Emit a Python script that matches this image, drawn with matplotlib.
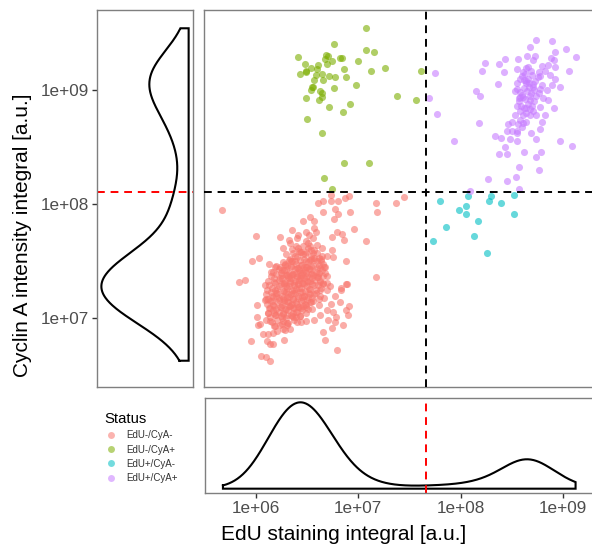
import numpy as np
import matplotlib
matplotlib.use('Agg')
import matplotlib.pyplot as plt
from matplotlib.lines import Line2D

plt.rcParams['font.family'] = ['Liberation Sans', 'DejaVu Sans']

# ---------------- data (log10 EdU integral, log10 Cyclin A integral) ----------------
status_labels = ['EdU-/CyA-', 'EdU-/CyA+', 'EdU+/CyA-', 'EdU+/CyA+']
status_colors = ['#F8766D', '#7CAE00', '#00BFC4', '#C77CFF']

red_points_sparse = [
    (5.68,7.95),(6.01,7.72),(6.24,7.71),(6.27,7.62),(5.97,7.50),(6.04,7.53),(6.14,7.48),(6.16,7.41),
    (6.21,7.46),(6.31,7.46),(5.85,7.32),(5.90,7.34),(6.10,7.29),(6.61,8.01),(6.66,8.03),(6.74,8.03),
    (6.81,8.03),(6.88,8.05),(6.92,8.07),(6.74,8.08),(6.66,7.93),(6.78,7.96),(6.77,7.87),(6.81,7.91),
    (6.93,7.93),(6.54,7.89),(6.58,7.85),(6.47,7.85),(6.36,7.77),(6.50,7.76),(6.58,7.79),(6.59,7.76),
    (6.42,7.73),(6.41,7.70),(6.33,7.69),(6.53,7.73),(6.50,7.68),(6.57,7.70),(6.75,7.71),(6.80,7.76),
    (6.85,7.74),(6.87,7.69),(6.96,7.78),(7.08,7.68),(7.18,8.01),(7.19,7.93),(7.37,8.01),(7.45,8.06),
    (6.34,7.66),(6.40,7.63),(6.54,7.63),(6.60,7.64),(6.65,7.62),(6.75,7.60),(6.45,7.58),(6.37,7.57),
    (6.50,7.58),(6.57,7.57),(6.65,7.55),(6.70,7.55),(6.76,7.54),(6.36,7.50),(6.44,7.51),(6.54,7.51),
    (6.60,7.50),(6.66,7.48),(6.41,7.44),(6.50,7.45),(6.63,7.44),(6.68,7.45),(6.89,7.50),(6.31,7.38),
    (6.37,7.39),(6.47,7.41),(6.57,7.38),(6.70,7.37),(6.26,7.35),(6.34,7.33),(6.54,7.33),(6.63,7.32),
    (7.18,7.36),(6.89,7.30),(6.19,7.32),(6.28,7.31),(6.47,7.31),(6.70,7.31),
    (6.44,7.35),(6.60,7.36),(6.73,7.28),(6.78,7.20),(6.83,7.14),(6.84,7.25),(6.84,7.27),(6.90,7.30),
    (6.92,7.11),(6.89,7.07),(6.91,7.03),(6.86,6.94),(6.74,7.13),(6.70,7.07),(6.76,7.06),(6.79,7.01),
    (6.78,6.97),(6.75,6.92),(6.71,6.99),(6.63,7.03),(6.58,6.99),(6.66,6.88),(6.68,6.81),(6.80,6.72),
    (6.02,7.12),(6.02,7.01),(6.05,6.95),(6.03,6.94),(6.08,6.86),(6.13,6.86),(6.18,6.87),(6.12,6.80),
    (6.15,6.78),(6.18,6.78),(5.96,6.80),(6.06,6.67),(6.11,6.66),(6.15,6.63),(6.28,6.81),(6.29,6.90),
    (6.34,6.91),(6.41,6.97),(6.45,6.97),(6.50,6.98),(6.24,6.94),(6.19,6.93),(6.15,6.98),(6.11,6.99),
    (6.13,7.05),(6.10,7.16),(6.11,7.17),(6.15,7.09),(6.21,7.20),(6.28,7.14),(6.34,7.11),(6.42,7.10),
    (6.50,7.10),(6.54,7.14),(6.63,7.20),(6.21,7.03),(6.31,7.03),(6.37,7.01),
]

red_points_core = [
    (6.20,7.45),(6.25,7.40),(6.30,7.42),(6.35,7.45),(6.40,7.48),(6.45,7.47),(6.50,7.50),(6.55,7.46),
    (6.60,7.44),(6.28,7.30),(6.33,7.28),(6.38,7.31),(6.43,7.27),(6.48,7.30),(6.53,7.26),(6.58,7.29),
    (6.63,7.25),(6.22,7.22),(6.27,7.18),(6.32,7.21),(6.37,7.17),(6.42,7.20),(6.47,7.16),(6.52,7.19),
    (6.57,7.15),(6.25,7.10),(6.30,7.08),(6.35,7.12),(6.40,7.06),(6.45,7.09),(6.50,7.05),(6.18,7.12),
    (6.20,7.25),(6.24,7.35),(6.36,7.38),(6.41,7.36),(6.46,7.40),(6.51,7.37),(6.56,7.40),(6.61,7.36),
    (6.39,7.55),(6.44,7.58),(6.49,7.56),(6.55,7.60),(6.60,7.57),(6.47,7.63),(6.52,7.66),(6.42,7.62),
    (6.34,7.52),(6.29,7.48),(6.23,7.16),(6.19,7.05),(6.26,7.00),(6.31,6.96),(6.36,7.02),(6.41,7.13),
    (6.46,7.23),(6.51,7.33),(6.56,7.35),(6.62,7.40),(6.66,7.30),(6.68,7.40),(6.64,7.52),(6.58,7.53),
    (6.53,7.43),(6.48,7.45),(6.43,7.42),(6.38,7.25),(6.33,7.35),(6.28,7.24),(6.23,7.28),(6.17,7.20),
    (6.15,7.15),(6.21,7.08),(6.27,7.05),(6.32,7.14),(6.37,7.09),(6.44,7.02),(6.49,7.13),(6.54,7.21),
    (6.59,7.22),(6.62,7.12),(6.67,7.18),(6.70,7.25),(6.56,7.08),(6.40,7.40),(6.45,7.35),(6.35,7.50),
    (6.30,7.38),(6.26,7.42),(6.50,7.40),(6.55,7.52),(6.42,7.30),(6.48,7.20),(6.31,7.19),(6.37,7.22),
    (6.36,7.61),(6.43,7.59),(6.52,7.62),(6.58,7.60),
    (6.30,7.56),(6.41,7.54),(6.47,7.56),(6.55,7.55),(6.62,7.53),
    (6.27,7.49),(6.33,7.51),(6.39,7.50),(6.48,7.52),(6.52,7.49),(6.58,7.51),(6.64,7.50),
    (6.24,7.45),(6.29,7.47),(6.35,7.46),(6.42,7.44),(6.46,7.47),(6.51,7.45),(6.57,7.46),(6.62,7.47),(6.67,7.45),
    (6.18,7.41),(6.23,7.43),(6.28,7.42),(6.33,7.40),(6.39,7.43),(6.44,7.41),(6.49,7.42),(6.54,7.43),(6.59,7.41),(6.65,7.42),
    (6.16,7.37),(6.21,7.39),(6.26,7.38),(6.32,7.36),(6.36,7.39),(6.41,7.37),(6.45,7.38),(6.50,7.36),(6.55,7.39),(6.61,7.38),(6.66,7.37),
    (6.13,7.33),(6.19,7.35),(6.23,7.34),(6.29,7.32),(6.35,7.35),(6.39,7.33),(6.43,7.34),(6.48,7.35),(6.52,7.32),(6.58,7.34),(6.63,7.33),
    (6.14,7.29),(6.20,7.31),(6.25,7.30),(6.30,7.28),(6.34,7.31),(6.38,7.29),(6.42,7.30),(6.46,7.31),(6.51,7.28),(6.56,7.30),(6.61,7.29),(6.66,7.31),
    (6.12,7.25),(6.17,7.27),(6.22,7.26),(6.27,7.24),(6.31,7.27),(6.36,7.25),(6.40,7.26),(6.45,7.27),(6.49,7.24),(6.54,7.26),(6.59,7.25),(6.64,7.27),
    (6.11,7.21),(6.16,7.23),(6.21,7.22),(6.26,7.20),(6.30,7.23),(6.35,7.21),(6.39,7.22),(6.44,7.23),(6.48,7.20),(6.53,7.22),(6.58,7.21),
    (6.13,7.17),(6.18,7.19),(6.23,7.18),(6.28,7.16),(6.33,7.19),(6.37,7.17),(6.42,7.18),(6.46,7.19),(6.51,7.16),(6.56,7.18),(6.62,7.17),
    (6.12,7.13),(6.17,7.15),(6.22,7.14),(6.26,7.12),(6.31,7.15),(6.36,7.13),(6.40,7.14),(6.45,7.15),(6.50,7.12),(6.55,7.14),
    (6.14,7.09),(6.19,7.11),(6.24,7.10),(6.29,7.08),(6.33,7.11),(6.38,7.09),(6.43,7.10),(6.47,7.11),(6.52,7.08),
    (6.13,7.05),(6.18,7.07),(6.23,7.06),(6.27,7.04),(6.32,7.07),(6.37,7.05),(6.41,7.06),(6.46,7.07),
    (6.15,7.01),(6.20,7.03),(6.25,7.02),(6.30,7.00),(6.35,7.03),(6.40,7.01),(6.44,7.02),
    (6.17,6.97),(6.22,6.99),(6.27,6.98),(6.32,6.96),(6.38,6.99),
    (6.20,6.93),(6.26,6.95),(6.31,6.94),
    (6.22,6.89),(6.27,6.91),
]

green_points = [
    (7.08,9.54),(6.77,9.40),(6.42,9.29),(6.49,9.23),(6.44,9.14),(6.50,9.17),(6.50,9.16),(6.55,9.19),
    (6.60,9.18),(6.61,9.22),(6.69,9.31),(6.71,9.30),(6.68,9.27),(6.70,9.23),(6.75,9.25),(6.83,9.28),
    (6.85,9.28),(6.87,9.18),(7.00,9.25),(7.08,9.35),(7.16,9.33),(7.13,9.17),(7.27,9.19),(7.62,9.17),
    (6.59,9.13),(6.58,9.09),(6.65,9.14),(6.66,9.09),(6.72,9.12),(6.78,9.11),(6.89,9.11),(6.57,9.03),
    (6.55,9.00),(6.56,9.03),(6.63,8.99),(6.65,8.97),(6.65,8.94),(6.62,8.91),(6.50,8.93),(6.77,9.02),
    (6.98,9.04),(6.72,8.85),(6.86,8.81),(6.93,8.88),(7.38,8.95),(7.57,8.91),(6.51,8.75),(6.65,8.62),
    (6.87,8.36),(7.11,8.36),(6.67,8.23),(6.75,8.13),
]

cyan_points = [
    (7.80,8.03),(8.07,8.07),(8.30,8.07),(8.28,8.03),(8.39,8.01),(8.52,8.08),(7.99,7.95),(8.05,7.98),
    (8.05,7.91),(8.17,7.85),(8.52,7.91),(7.86,7.80),(8.13,7.72),(7.73,7.68),(8.26,7.57),
]

purple_points = [
    (8.18,8.71),(7.94,8.55),(8.34,8.60),(8.39,8.58),(8.43,8.50),(8.38,8.44),(8.45,8.44),(8.46,8.70),
    (8.45,8.64),(8.50,8.64),(8.55,8.64),(8.48,8.57),(8.55,8.55),(8.62,8.46),(8.69,8.62),(8.74,8.57),
    (8.78,8.46),(8.74,8.41),(8.76,8.30),(8.57,8.33),(8.54,8.24),(8.45,8.20),(8.27,8.22),(8.09,8.12),
    (8.57,8.13),(8.97,8.55),(9.09,8.51),(8.79,8.72),(8.77,8.66),(8.58,8.74),(8.61,8.71),(8.64,8.72),
    (8.55,8.62),
    (8.74,9.44),(8.89,9.43),(8.68,9.38),(9.03,9.36),(8.92,9.33),(8.65,9.30),(8.73,9.30),(9.12,9.29),
    (8.88,9.28),(8.43,9.27),(8.56,9.27),(8.24,9.24),(8.38,9.23),(8.91,9.26),(7.75,9.15),(8.21,9.17),
    (8.42,9.16),(8.55,9.18),(8.64,9.19),(8.71,9.26),(8.79,9.21),(8.85,9.22),(8.92,9.20),(9.06,9.17),
    (8.76,9.16),(8.82,9.17),(8.87,9.13),(8.77,9.12),(8.92,9.10),(8.37,9.05),(8.15,8.99),(8.19,8.95),
    (8.62,9.09),(8.64,9.06),(8.55,9.01),(8.58,8.98),(8.71,9.03),(8.79,9.04),(8.89,9.04),(8.97,9.03),
    (8.61,8.94),(8.68,8.95),(8.76,8.97),(8.84,9.00),(8.58,8.94),(8.68,8.91),(8.72,8.90),(8.80,8.93),
    (8.85,8.91),(7.69,8.93),(7.77,8.79),(8.55,8.86),(8.58,8.82),(8.64,8.84),(8.71,8.82),(8.77,8.85),
    (8.82,8.78),(8.91,8.84),(8.61,8.78),(8.68,8.78),(8.74,8.78),(8.53,8.78),
    (8.60,9.12),(8.63,9.14),(8.66,9.10),(8.70,9.13),(8.73,9.08),(8.67,9.06),(8.62,9.02),(8.65,8.99),
    (8.69,8.97),(8.72,9.00),(8.60,8.96),(8.63,8.92),(8.66,8.88),(8.70,8.86),(8.57,8.90),(8.59,8.86),
    (8.74,8.95),(8.77,9.01),(8.55,9.06),(8.58,9.10),(8.61,9.16),(8.66,9.20),(8.69,9.17),(8.75,9.11),
    (8.53,8.99),(8.64,8.80),(8.62,8.84),(8.68,8.83),(8.56,8.70),(8.60,8.68),(8.50,8.72),(8.57,8.93),
    (8.67,9.03),(8.71,9.05),(8.64,9.08),
]

edu_threshold = 4.6e7
cya_threshold = 1.28e8

x_tick_values = [1e6, 1e7, 1e8, 1e9]
x_tick_labels = ['1e+06', '1e+07', '1e+08', '1e+09']
y_tick_values = [1e7, 1e8, 1e9]
y_tick_labels = ['1e+07', '1e+08', '1e+09']

x_title = 'EdU staining integral [a.u.]'
y_title = 'Cyclin A intensity integral [a.u.]'
legend_title = 'Status'

# ---------------- helpers ----------------
groups = [red_points_sparse + red_points_core, green_points, cyan_points, purple_points]
all_lx = np.array([p[0] for g in groups for p in g])
all_ly = np.array([p[1] for g in groups for p in g])


def kde_nrd0(v, n_grid=512):
    v = np.asarray(v, float)
    n = len(v)
    sd = v.std(ddof=1)
    q75, q25 = np.percentile(v, [75, 25])
    bw = 0.9 * min(sd, (q75 - q25) / 1.34) * n ** -0.2
    grid = np.linspace(v.min(), v.max(), n_grid)
    dens = np.exp(-0.5 * ((grid[:, None] - v[None, :]) / bw) ** 2).sum(1) / (n * bw * np.sqrt(2 * np.pi))
    return grid, dens


W, H = 592, 553


def rect(x0, y0, x1, y1):
    return [x0 / W, 1 - y1 / H, (x1 - x0) / W, (y1 - y0) / H]


fig = plt.figure(figsize=(W / 100, H / 100), dpi=100)
ax_main = fig.add_axes(rect(204, 10, 593, 387))
ax_left = fig.add_axes(rect(97, 10, 193, 387))
ax_bot = fig.add_axes(rect(205, 398, 593, 493))

border_col = '#7F7F7F'
for ax in (ax_main, ax_left, ax_bot):
    for s in ax.spines.values():
        s.set_color(border_col)
        s.set_linewidth(1.0)

# x / y limits (log10 data range + 5 % expansion)
x_lim = (10 ** 5.505, 10 ** 9.29)
y_lim = (10 ** 6.40, 10 ** 9.70)

# ---------------- main scatter ----------------
for pts, col in zip(groups, status_colors):
    lx = np.array([p[0] for p in pts])
    ly = np.array([p[1] for p in pts])
    ax_main.scatter(10 ** lx, 10 ** ly, s=26, color=col, alpha=0.6, linewidths=0, zorder=2)
ax_main.set_xscale('log')
ax_main.set_yscale('log')
ax_main.set_xlim(*x_lim)
ax_main.set_ylim(*y_lim)
ax_main.axvline(edu_threshold, color='black', lw=1.4, dashes=(4, 3), zorder=3)
ax_main.axhline(cya_threshold, color='black', lw=1.4, dashes=(4, 3), zorder=3)
ax_main.tick_params(which='both', length=0, labelbottom=False, labelleft=False)

# ---------------- left density (Cyclin A) ----------------
gy, dy = kde_nrd0(all_ly)
px = np.concatenate([dy, [0, 0, dy[0]]])
py = np.concatenate([gy, [gy[-1], gy[0], gy[0]]])
ax_left.plot(px, 10 ** py, color='black', lw=1.5, solid_joinstyle='miter')
ax_left.set_yscale('log')
ax_left.set_ylim(*y_lim)
ax_left.set_xlim(dy.max() * 1.05, -dy.max() * 0.05)
ax_left.axhline(cya_threshold, color='#FF0000', lw=1.4, dashes=(4, 3))
ax_left.set_xticks([])
ax_left.yaxis.set_major_locator(matplotlib.ticker.FixedLocator(y_tick_values))
ax_left.yaxis.set_minor_locator(matplotlib.ticker.NullLocator())
ax_left.set_yticklabels(y_tick_labels)
ax_left.tick_params(axis='y', length=3.8, width=1.0, color='#333333', labelcolor='#4D4D4D',
                    labelsize=12.3, pad=2.2)

# ---------------- bottom density (EdU) ----------------
gx, dx = kde_nrd0(all_lx)
bx = np.concatenate([gx, [gx[-1], gx[0], gx[0]]])
by = np.concatenate([dx, [0, 0, dx[0]]])
ax_bot.plot(10 ** bx, by, color='black', lw=1.5, solid_joinstyle='miter')
ax_bot.set_xscale('log')
ax_bot.set_xlim(*x_lim)
ax_bot.set_ylim(-dx.max() * 0.05, dx.max() * 1.05)
ax_bot.axvline(edu_threshold, color='#FF0000', lw=1.4, dashes=(4, 3))
ax_bot.set_yticks([])
ax_bot.xaxis.set_major_locator(matplotlib.ticker.FixedLocator(x_tick_values))
ax_bot.xaxis.set_minor_locator(matplotlib.ticker.NullLocator())
ax_bot.set_xticklabels(x_tick_labels)
ax_bot.tick_params(axis='x', length=3.8, width=1.0, color='#333333', labelcolor='#4D4D4D',
                   labelsize=12.3, pad=2.2)

# ---------------- titles ----------------
fig.text(344 / W, 1 - 540 / H, x_title, ha='center', va='baseline', fontsize=15)
fig.text(23 / W, 1 - 235 / H, y_title, ha='center', va='center', rotation=90, fontsize=15)

# ---------------- legend ----------------
handles = [Line2D([0], [0], marker='o', linestyle='', markersize=5.0, markerfacecolor=c,
                  markeredgewidth=0, alpha=0.55) for c in status_colors]
leg = fig.legend(handles, status_labels, title=legend_title, loc='upper left',
                 bbox_to_anchor=(104 / W, 1 - 412 / H), frameon=False, prop={'size': 7.0},
                 title_fontsize=10.7, handlelength=1.4, handletextpad=0.85, labelspacing=0.44,
                 borderpad=0, borderaxespad=0, alignment='left')
for t in leg.get_texts():
    t.set_color('#333333')

fig.savefig('out.png', dpi=100)
